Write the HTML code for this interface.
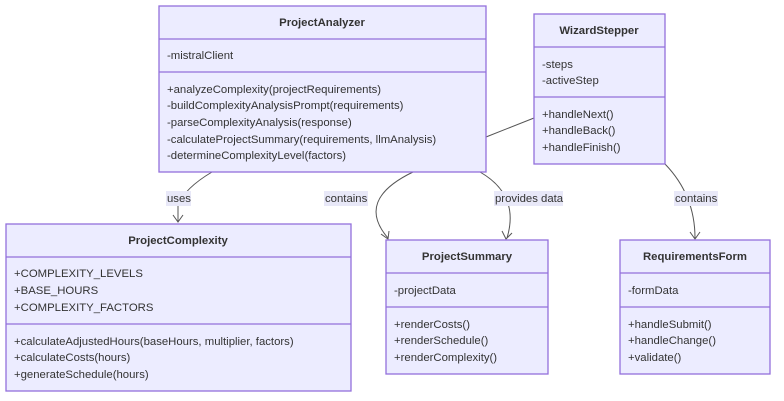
<!DOCTYPE html>
<html><head><style>body{margin:0;background:#fff}svg{display:block}
text{font-family:"Liberation Sans",sans-serif;font-size:11.35px;fill:#333}
.t{font-weight:bold;text-anchor:middle}
.b{fill:#ececff;stroke:#9370db;stroke-width:1.3}
.d{stroke:#9370db;stroke-width:1.3}
.e{fill:none;stroke:#555;stroke-width:1}
.l{fill:#e8e8f8}
</style></head><body>
<svg width="784" height="401" viewBox="0 0 784 401">
<path class="e" d="M212,172 Q185,188 178,205 L178,222"/>
<path class="e" d="M173,215 L178,222 L183,215"/>
<path class="e" d="M413,172 Q355,200 388,238"/>
<path class="e" d="M381,234 L388,239 L389,231"/>
<path class="e" d="M480,172 Q520,195 507,238"/>
<path class="e" d="M502,231 L506,239 L512,233"/>
<path class="e" d="M534,118 L486,137"/>
<path class="e" d="M665,164 Q695,195 695,238"/>
<path class="e" d="M690,232 L695,239 L700,232"/>
<rect class="l" x="166" y="191" width="25" height="15"/><text x="167" y="202">uses</text>
<rect class="l" x="324" y="191" width="44" height="15"/><text x="325" y="202">contains</text>
<rect class="l" x="494" y="191" width="69" height="15"/><text x="495" y="202">provides data</text>
<rect class="l" x="674" y="191" width="44" height="15"/><text x="675" y="202">contains</text>
<rect class="b" x="159" y="6" width="327" height="166"/>
<line class="d" x1="159" y1="39" x2="486" y2="39"/><line class="d" x1="159" y1="72" x2="486" y2="72"/>
<text class="t" x="322" y="26">ProjectAnalyzer</text>
<text x="167" y="59">-mistralClient</text>
<text x="167" y="93">+analyzeComplexity(projectRequirements)</text>
<text x="167" y="109">-buildComplexityAnalysisPrompt(requirements)</text>
<text x="167" y="126">-parseComplexityAnalysis(response)</text>
<text x="167" y="143">-calculateProjectSummary(requirements, llmAnalysis)</text>
<text x="167" y="159">-determineComplexityLevel(factors)</text>
<rect class="b" x="534" y="14" width="131" height="150"/>
<line class="d" x1="534" y1="47" x2="665" y2="47"/><line class="d" x1="534" y1="97" x2="665" y2="97"/>
<text class="t" x="599" y="34">WizardStepper</text>
<text x="542" y="68">-steps</text><text x="542" y="84">-activeStep</text>
<text x="542" y="118">+handleNext()</text><text x="542" y="134">+handleBack()</text><text x="542" y="151">+handleFinish()</text>
<rect class="b" x="6" y="224" width="345" height="167"/>
<line class="d" x1="6" y1="257" x2="351" y2="257"/><line class="d" x1="6" y1="324" x2="351" y2="324"/>
<text class="t" x="178" y="244">ProjectComplexity</text>
<text x="14" y="277">+COMPLEXITY_LEVELS</text><text x="14" y="294">+BASE_HOURS</text><text x="14" y="311">+COMPLEXITY_FACTORS</text>
<text x="14" y="345">+calculateAdjustedHours(baseHours, multiplier, factors)</text>
<text x="14" y="361">+calculateCosts(hours)</text><text x="14" y="378">+generateSchedule(hours)</text>
<rect class="b" x="386" y="240" width="162" height="134"/>
<line class="d" x1="386" y1="273" x2="548" y2="273"/><line class="d" x1="386" y1="307" x2="548" y2="307"/>
<text class="t" x="467" y="260">ProjectSummary</text>
<text x="394" y="294">-projectData</text>
<text x="394" y="328">+renderCosts()</text><text x="394" y="344">+renderSchedule()</text><text x="394" y="361">+renderComplexity()</text>
<rect class="b" x="620" y="240" width="150" height="134"/>
<line class="d" x1="620" y1="273" x2="770" y2="273"/><line class="d" x1="620" y1="307" x2="770" y2="307"/>
<text class="t" x="695" y="260">RequirementsForm</text>
<text x="628" y="294">-formData</text>
<text x="628" y="328">+handleSubmit()</text><text x="628" y="344">+handleChange()</text><text x="628" y="361">+validate()</text>
</svg>
</body></html>
